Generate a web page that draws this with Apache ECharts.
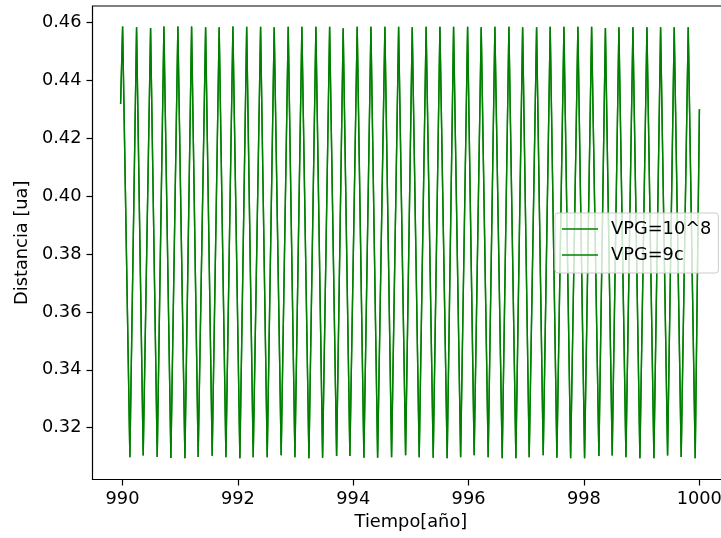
<!DOCTYPE html>
<html><head><meta charset="utf-8">
<script src="https://cdn.jsdelivr.net/npm/echarts@6/dist/echarts.min.js"></script>
<style>html,body{margin:0;padding:0;background:#fff}#c{width:721px;height:538px}</style>
</head><body><div id="c"></div>
<script>
const seriesNames = ['VPG=10^8', 'VPG=9c'];
const startPoint = [989.967, 0.4319];
const endPoint = [1000.002, 0.4301];
const peakTimes = [990.002, 990.244, 990.487, 990.718, 990.960, 991.198, 991.441, 991.676, 991.914, 992.153,
  992.394, 992.630, 992.873, 993.110, 993.353, 993.591, 993.826, 994.069, 994.307, 994.549,
  994.787, 995.023, 995.264, 995.503, 995.740, 995.983, 996.219, 996.456, 996.699, 996.937,
  997.179, 997.415, 997.653, 997.895, 998.133, 998.372, 998.606, 998.849, 999.092, 999.329,
  999.565, 999.808];
const peakValues = [0.4587, 0.4584, 0.4582, 0.4587, 0.4587, 0.4587, 0.4584, 0.4584, 0.4587, 0.4586,
  0.4586, 0.4584, 0.4586, 0.4586, 0.4586, 0.4586, 0.4581, 0.4586, 0.4586, 0.4586,
  0.4586, 0.4584, 0.4586, 0.4586, 0.4586, 0.4586, 0.4584, 0.4586, 0.4586, 0.4584,
  0.4584, 0.4586, 0.4586, 0.4586, 0.4586, 0.4582, 0.4584, 0.4584, 0.4584, 0.4584,
  0.4584, 0.4584];
const troughTimes = [990.128, 990.359, 990.602, 990.839, 991.082, 991.312, 991.555, 991.793, 992.035, 992.266,
  992.509, 992.751, 992.989, 993.232, 993.469, 993.712, 993.942, 994.185, 994.423, 994.665,
  994.908, 995.144, 995.387, 995.629, 995.862, 996.097, 996.340, 996.583, 996.820, 997.051,
  997.294, 997.531, 997.769, 998.011, 998.259, 998.490, 998.728, 998.970, 999.213, 999.450,
  999.686, 999.929];
const troughValues = [0.3098, 0.3104, 0.3099, 0.3095, 0.3094, 0.3099, 0.3103, 0.3098, 0.3094, 0.3098,
  0.3098, 0.3105, 0.3098, 0.3094, 0.3096, 0.3102, 0.3102, 0.3096, 0.3096, 0.3098,
  0.3105, 0.3098, 0.3096, 0.3094, 0.3098, 0.3105, 0.3098, 0.3094, 0.3094, 0.3098,
  0.3105, 0.3096, 0.3094, 0.3094, 0.3102, 0.3104, 0.3098, 0.3094, 0.3094, 0.3104,
  0.3099, 0.3094];
const xTicks = [990, 992, 994, 996, 998, 1000];
const yTicks = [0.32, 0.34, 0.36, 0.38, 0.40, 0.42, 0.44, 0.46];

const curve = [startPoint];
for (let i = 0; i < peakTimes.length; i++) {
  curve.push([peakTimes[i], peakValues[i]]);
  curve.push([troughTimes[i], troughValues[i]]);
}
curve.push(endPoint);

const FONT = 'DejaVu Sans';
const FS = 17.8;
const chart = echarts.init(document.getElementById('c'), null, {renderer: 'canvas'});
chart.setOption({
  animation: false,
  backgroundColor: '#fff',
  grid: {left: 92.5, top: 6, right: -8.3, bottom: 58.5, show: true, borderColor: '#000', borderWidth: 1.2, containLabel: false, outerBoundsMode: 'none'},
  xAxis: {
    type: 'value', min: 989.48, max: 1000.52,
    name: 'Tiempo[año]', nameLocation: 'middle', nameGap: 34,
    nameTextStyle: {fontFamily: FONT, fontSize: FS, color: '#000'},
    axisLine: {show: false},
    axisTick: {show: true, customValues: xTicks, length: 6, lineStyle: {color: '#000', width: 1.2}},
    axisLabel: {customValues: xTicks, margin: 11, fontFamily: FONT, fontSize: FS, color: '#000',
      formatter: v => String(Math.round(v))},
    splitLine: {show: false}
  },
  yAxis: {
    type: 'value', min: 0.30209, max: 0.46577,
    name: 'Distancia [ua]', nameLocation: 'middle', nameGap: 60,
    nameTextStyle: {fontFamily: FONT, fontSize: FS, color: '#000'},
    axisLine: {show: false},
    axisTick: {show: true, customValues: yTicks, length: 6, lineStyle: {color: '#000', width: 1.2}},
    axisLabel: {customValues: yTicks, margin: 11, fontFamily: FONT, fontSize: FS, color: '#000',
      formatter: v => v.toFixed(2)},
    splitLine: {show: false}
  },
  legend: {
    orient: 'vertical', left: 555, top: 213,
    padding: [6, 7, 8, 7], itemWidth: 36, itemHeight: 1.4, itemGap: 6, icon: 'rect',
    backgroundColor: 'rgba(255,255,255,0.8)', borderColor: '#cccccc', borderWidth: 1, borderRadius: 3,
    textStyle: {fontFamily: FONT, fontSize: FS, lineHeight: 20, color: '#000', padding: [0, 0, 0, 8]},
    data: seriesNames
  },
  series: seriesNames.map(n => ({
    name: n, type: 'line', data: curve, symbol: 'none', showSymbol: false,
    lineStyle: {color: '#008000', width: 1.4}, itemStyle: {color: '#008000'}
  }))
});
</script></body></html>
